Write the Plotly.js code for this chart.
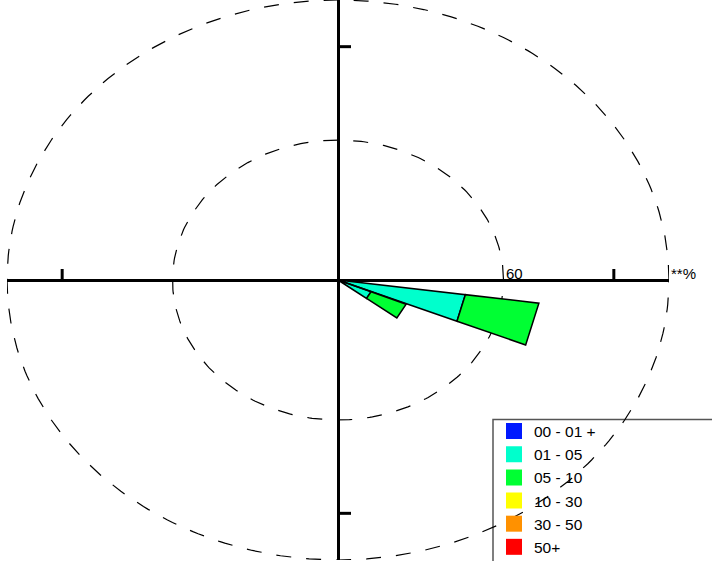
<!DOCTYPE html>
<html>
<head>
<meta charset="utf-8">
<script src="https://cdn.plot.ly/plotly-3.0.1.min.js"></script>
<style>
  html, body { margin: 0; padding: 0; background: #fff; }
  #chart { width: 712px; height: 561px; }
</style>
</head>
<body>
<div id="chart"></div>
<script>
// ---- data ----
var directions = [105, 120];              // compass degrees (bin centres)
var speedClasses = ["00 - 01 +", "01 - 05", "05 - 10", "10 - 30", "30 - 50", "50+"];
var classColors = ["#0019ff", "#00ffcc", "#00ff33", "#ffff00", "#ff9100", "#ff0000"];
var s00_01 = [0, 0];
var s01_05 = [46.6, 13.0];
var s05_10 = [26.9, 13.8];
var s10_30 = [0, 0];
var s30_50 = [0, 0];
var s50p   = [0, 0];
var seriesValues = [s00_01, s01_05, s05_10, s10_30, s30_50, s50p];
var ringValues = [60, 120];
var ringLabels = ["60", "**%"];
var axisTickValues = [-100, 100];

// ---- build ----
var binWidth = 14.5;
var traces = [];
var deg = Math.PI / 180;

// dashed rings
ringValues.forEach(function (r) {
  var xs = [], ys = [];
  for (var a = 0; a <= 360; a += 1) {
    xs.push(r * Math.cos(a * deg));
    ys.push(r * Math.sin(a * deg));
  }
  traces.push({
    type: "scatter", mode: "lines", x: xs, y: ys,
    line: { color: "#000", width: 1.2, dash: "15px,15px" },
    hoverinfo: "skip", showlegend: false
  });
});

// stacked wind-rose sectors
var cum = directions.map(function () { return 0; });
seriesValues.forEach(function (vals, k) {
  var xs = [], ys = [];
  directions.forEach(function (d, i) {
    var v = vals[i];
    if (!v) return;
    var r0 = cum[i], r1 = cum[i] + v;
    cum[i] = r1;
    var th = 90 - d;
    var a1 = (th - binWidth / 2) * deg, a2 = (th + binWidth / 2) * deg;
    xs.push(r0 * Math.cos(a1), r1 * Math.cos(a1), r1 * Math.cos(a2), r0 * Math.cos(a2), r0 * Math.cos(a1), null);
    ys.push(r0 * Math.sin(a1), r1 * Math.sin(a1), r1 * Math.sin(a2), r0 * Math.sin(a2), r0 * Math.sin(a1), null);
  });
  if (xs.length) {
    traces.push({
      type: "scatter", mode: "lines", x: xs, y: ys, fill: "toself",
      fillcolor: classColors[k], line: { color: "#000", width: 1.5 },
      name: speedClasses[k], showlegend: false, hoverinfo: "name"
    });
  }
});

// legend entries
speedClasses.forEach(function (name, k) {
  traces.push({
    type: "scatter", mode: "markers", x: [null], y: [null],
    marker: { symbol: "square", size: 17, color: classColors[k], line: { width: 0 } },
    name: name, showlegend: true
  });
});

var shapes = [];
// axis ticks
axisTickValues.forEach(function (t) {
  shapes.push({ type: "line", xref: "x", yref: "y", ysizemode: "pixel", yanchor: 0,
    x0: t, x1: t, y0: 0, y1: 11, line: { color: "#000", width: 3 } });
  shapes.push({ type: "line", xref: "x", yref: "y", xsizemode: "pixel", xanchor: 0,
    x0: 0, x1: 13, y0: t, y1: t, line: { color: "#000", width: 3 } });
});
// legend box
shapes.push({ type: "rect", xref: "paper", yref: "paper", layer: "below",
  x0: (493 - 7) / 662, x1: 1.3, y0: -0.2, y1: (560 - 419.5) / 560,
  line: { color: "#555", width: 1.5 }, fillcolor: "rgba(0,0,0,0)" });

var annotations = ringValues.map(function (r, i) {
  return { x: r, y: 0, xref: "x", yref: "y", text: ringLabels[i], showarrow: false,
    xanchor: "left", yanchor: "bottom", xshift: 0, yshift: -4,
    font: { family: "Liberation Sans, Arial, sans-serif", size: 15, color: "#000" } };
});

var layout = {
  width: 712, height: 561,
  margin: { l: 7, r: 43, t: 0, b: 1, pad: 0, autoexpand: false },
  paper_bgcolor: "#fff", plot_bgcolor: "#fff",
  font: { family: "Liberation Sans, Arial, sans-serif", size: 15, color: "#000" },
  xaxis: { range: [-120, 120], showgrid: false, showticklabels: false, ticks: "",
    zeroline: true, zerolinecolor: "#000", zerolinewidth: 3, showline: false, fixedrange: true },
  yaxis: { range: [-120, 120], showgrid: false, showticklabels: false, ticks: "",
    zeroline: true, zerolinecolor: "#000", zerolinewidth: 3, showline: false, fixedrange: true },
  showlegend: true,
  legend: { x: (494 - 7) / 662, y: (560 - 414.5) / 560, xanchor: "left", yanchor: "top",
    bgcolor: "rgba(0,0,0,0)", borderwidth: 0, itemsizing: "trace", tracegroupgap: 0,
    font: { family: "Liberation Sans, Arial, sans-serif", size: 15.5, color: "#000" } },
  shapes: shapes,
  annotations: annotations
};

Plotly.newPlot("chart", traces, layout, { staticPlot: true, displayModeBar: false });
</script>
</body>
</html>
